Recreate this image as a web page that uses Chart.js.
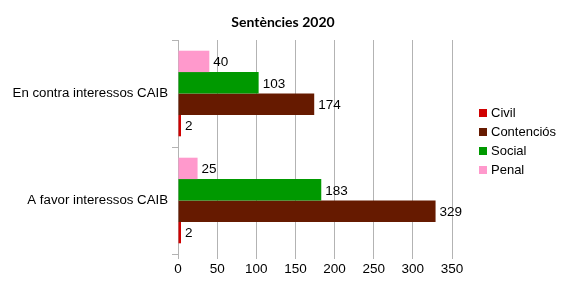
<!DOCTYPE html>
<html>
<head>
<meta charset="utf-8">
<script src="https://cdn.jsdelivr.net/npm/chart.js@4/dist/chart.umd.min.js"></script>
<style>
  html, body { margin: 0; padding: 0; background: #fff; }
  #wrap { width: 566px; height: 286px; }
</style>
</head>
<body>
<div id="wrap"><canvas id="c" width="566" height="286"></canvas></div>
<script>
// Sentències 2020 – judgments by jurisdiction
const categories = ['En contra interessos CAIB', 'A favor interessos CAIB'];
const civil      = [2, 2];
const contencios = [174, 329];
const social     = [103, 183];
const penal      = [40, 25];
const xTicks     = [0, 50, 100, 150, 200, 250, 300, 350];
const titleText  = 'Sentències 2020';

const FONT = "'Liberation Sans', Arial, sans-serif";

// Legend order (as listed on the right)
const series = [
  { label: 'Civil',      data: civil,      color: '#d00000' },
  { label: 'Contenciós', data: contencios, color: '#661a00' },
  { label: 'Social',     data: social,     color: '#009900' },
  { label: 'Penal',      data: penal,      color: '#ff99cc' }
];

// Bars are stacked top-to-bottom in reverse legend order
const datasets = series.slice().reverse().map(s => ({
  label: s.label,
  data: s.data,
  backgroundColor: s.color,
  borderWidth: 0,
  minBarLength: 3,
  categoryPercentage: 0.8,
  barPercentage: 1.0
}));

// Value text at the end of each bar
const valueLabels = {
  id: 'valueLabels',
  afterDatasetsDraw(chart) {
    const ctx = chart.ctx;
    ctx.save();
    ctx.font = '13.5px ' + FONT;
    ctx.fillStyle = '#000';
    ctx.textAlign = 'left';
    ctx.textBaseline = 'middle';
    chart.data.datasets.forEach((ds, i) => {
      chart.getDatasetMeta(i).data.forEach((bar, j) => {
        ctx.fillText(String(ds.data[j]), bar.x + 4, bar.y + 1);
      });
    });
    ctx.restore();
  }
};

// Title centred on the full canvas, plus the legend on the right
const decorations = {
  id: 'decorations',
  afterDraw(chart) {
    const ctx = chart.ctx;
    ctx.save();
    ctx.fillStyle = '#000';
    ctx.font = "bold 14px Lato, 'Open Sans', sans-serif";
    ctx.textAlign = 'center';
    ctx.textBaseline = 'middle';
    ctx.fillText(titleText, chart.width / 2, 22);

    ctx.font = '13px ' + FONT;
    ctx.textAlign = 'left';
    series.forEach((s, i) => {
      const y = 113 + i * 19;
      ctx.fillStyle = s.color;
      ctx.fillRect(479, y - 4, 8, 8);
      ctx.fillStyle = '#000';
      ctx.fillText(s.label, 491, y);
    });
    ctx.restore();
  }
};

new Chart(document.getElementById('c'), {
  type: 'bar',
  data: { labels: categories, datasets },
  options: {
    indexAxis: 'y',
    responsive: false,
    animation: false,
    layout: { padding: { left: 0, right: 114, top: 40, bottom: 0 } },
    plugins: {
      legend: { display: false },
      tooltip: { enabled: false },
      title: { display: false }
    },
    scales: {
      x: {
        min: 0,
        max: 350,
        afterBuildTicks(scale) { scale.ticks = xTicks.map(v => ({ value: v })); },
        afterFit(scale) { scale.height = 32; },
        grid: { color: '#b3b3b3', lineWidth: 1, tickLength: 5, drawTicks: true },
        border: { display: false },
        ticks: { color: '#000', font: { family: FONT, size: 13.5 }, padding: 2 }
      },
      y: {
        afterFit(scale) { scale.width = 178; },
        grid: { offset: true, drawOnChartArea: false, color: '#b3b3b3', tickLength: 6 },
        border: { display: true, color: '#b3b3b3' },
        ticks: { color: '#000', font: { family: FONT, size: 13.25 }, padding: 4 }
      }
    }
  },
  plugins: [valueLabels, decorations]
});
</script>
</body>
</html>
